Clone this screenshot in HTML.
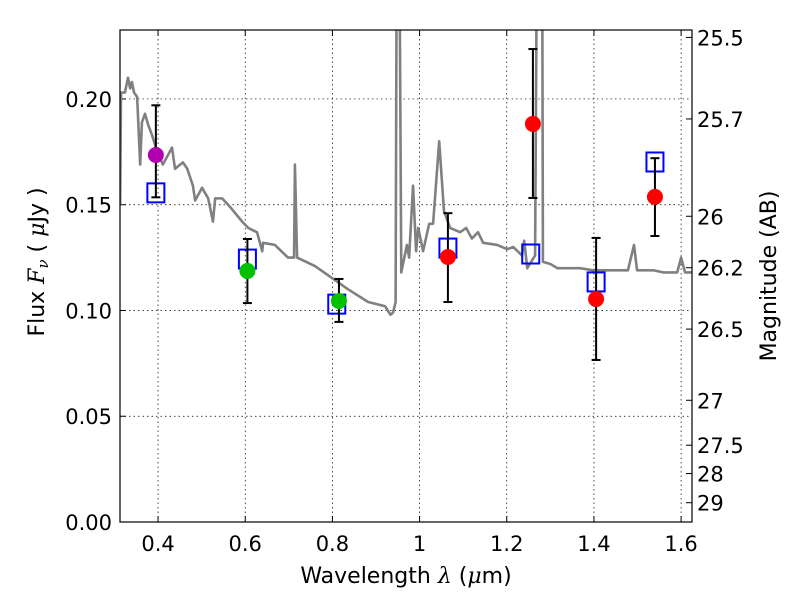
<!DOCTYPE html>
<html><head><meta charset="utf-8"><style>
body{margin:0;background:#fff}
svg text{font-family:"DejaVu Sans","Liberation Sans",sans-serif;fill:#000}
</style></head><body>
<svg id="c" width="800" height="600" xmlns="http://www.w3.org/2000/svg"></svg>
<script>
const specX=[0.313,0.315,0.324,0.331,0.336,0.340,0.345,0.352,0.359,0.363,0.370,0.377,0.386,0.398,0.411,0.432,0.439,0.457,0.467,0.480,0.485,0.501,0.515,0.526,0.531,0.547,0.565,0.593,0.607,0.627,0.639,0.641,0.668,0.698,0.712,0.714,0.719,0.760,0.836,0.882,0.921,0.933,0.939,0.945,0.948,0.953,0.958,0.971,0.976,0.985,0.992,0.997,1.008,1.022,1.031,1.045,1.056,1.070,1.093,1.107,1.120,1.134,1.146,1.178,1.201,1.215,1.235,1.240,1.247,1.265,1.270,1.281,1.283,1.300,1.316,1.368,1.398,1.444,1.478,1.492,1.499,1.536,1.559,1.591,1.600,1.609,1.627];
const specY=[0.15,0.203,0.203,0.210,0.205,0.208,0.203,0.201,0.169,0.189,0.193,0.188,0.183,0.175,0.169,0.177,0.167,0.170,0.167,0.159,0.152,0.158,0.153,0.142,0.153,0.153,0.149,0.142,0.139,0.137,0.128,0.132,0.131,0.125,0.125,0.169,0.125,0.121,0.110,0.104,0.102,0.098,0.099,0.104,0.30,0.30,0.118,0.131,0.125,0.159,0.128,0.139,0.128,0.141,0.141,0.180,0.147,0.139,0.137,0.139,0.134,0.137,0.132,0.131,0.129,0.130,0.126,0.133,0.120,0.126,0.30,0.30,0.123,0.122,0.120,0.120,0.119,0.119,0.119,0.131,0.119,0.119,0.118,0.118,0.125,0.118,0.118];
const obsX=[0.395,0.605,0.815,1.065,1.26,1.405,1.54];
const obsY=[0.1735,0.1187,0.1045,0.1253,0.1882,0.1054,0.1537];
const obsHi=[0.197,0.1338,0.1149,0.146,0.2236,0.1343,0.172];
const obsLo=[0.1535,0.1035,0.0946,0.104,0.1532,0.0766,0.1352];
const obsColor=['#b000b0','#00c000','#00c000','#ff0000','#ff0000','#ff0000','#ff0000'];
const modX=[0.395,0.605,0.81,1.065,1.255,1.405,1.54];
const modY=[0.1556,0.1243,0.103,0.1295,0.1267,0.1135,0.1702];
const xTicks=[0.4,0.6,0.8,1.0,1.2,1.4,1.6];
const xTickLabels=['0.4','0.6','0.8','1','1.2','1.4','1.6'];
const yTicks=[0,0.05,0.10,0.15,0.20];
const yTickLabels=['0.00','0.05','0.10','0.15','0.20'];
const magTicks=[25.5,25.7,26,26.2,26.5,27,27.5,28,29];
const magTickLabels=['25.5','25.7','26','26.2','26.5','27','27.5','28','29'];

const L=120,R=692,T=30,B=522,X0=0.3127,X1=1.625,Y0=0,Y1=0.2326;
const sx=v=>L+(v-X0)/(X1-X0)*(R-L);
const sy=v=>B-(v-Y0)/(Y1-Y0)*(B-T);
const magToFlux=m=>Math.pow(10,(23.9-m)/2.5);
const NS='http://www.w3.org/2000/svg';
const svg=document.getElementById('c');
function mk(tag,at,parent){const e=document.createElementNS(NS,tag);for(const k in at)e.setAttribute(k,at[k]);(parent||svg).appendChild(e);return e;}
const defs=mk('defs',{});const cp=mk('clipPath',{id:'clip'},defs);mk('rect',{x:L,y:T,width:R-L,height:B-T},cp);

xTicks.forEach((t,i)=>{
 const g=mk('line',{x1:sx(t),x2:sx(t),y1:T,y2:B,stroke:'#000','stroke-width':0.7,'stroke-dasharray':'1.5,3'});
 
 
 mk('line',{x1:sx(t),x2:sx(t),y1:B,y2:B-6,stroke:'#000'});
 mk('line',{x1:sx(t),x2:sx(t),y1:T,y2:T+6,stroke:'#000'});
 const tx=mk('text',{x:sx(t),y:B+29,'text-anchor':'middle','font-size':21});tx.textContent=xTickLabels[i];
 
 
});
yTicks.forEach((t,i)=>{
 const g=mk('line',{x1:L,x2:R,y1:sy(t),y2:sy(t),stroke:'#000','stroke-width':0.7,'stroke-dasharray':'1.5,3'});
 
 
 mk('line',{x1:L,x2:L+6,y1:sy(t),y2:sy(t),stroke:'#000'});
 const tx=mk('text',{x:L-8,y:sy(t)+8,'text-anchor':'end','font-size':21});tx.textContent=yTickLabels[i];
 
 
});
magTicks.forEach((m,i)=>{
 const y=sy(magToFlux(m));
 mk('line',{x1:R,x2:R-6,y1:y,y2:y,stroke:'#000'});
 const tx=mk('text',{x:R+5,y:y+8,'text-anchor':'start','font-size':21});tx.textContent=magTickLabels[i];
 
 
});

const gp=mk('g',{'clip-path':'url(#clip)'});
const pl=mk('polyline',{points:specX.map((x,i)=>sx(x)+','+sy(specY[i])).join(' '),fill:'none',stroke:'#808080','stroke-width':2.6,'stroke-linejoin':'round'},gp);



modX.forEach((x,i)=>{
 const r=mk('rect',{x:sx(x)-8.5,y:sy(modY[i])-9.5,width:17,height:19,fill:'none',stroke:'#0000ff','stroke-width':2});
 
 
});
obsX.forEach((x,i)=>{
 const px=sx(x);
 const e=mk('line',{x1:px,x2:px,y1:sy(obsHi[i]),y2:sy(obsLo[i]),stroke:'#000','stroke-width':2});
 
 
 mk('line',{x1:px-4.5,x2:px+4.5,y1:sy(obsHi[i]),y2:sy(obsHi[i]),stroke:'#000','stroke-width':2});
 mk('line',{x1:px-4.5,x2:px+4.5,y1:sy(obsLo[i]),y2:sy(obsLo[i]),stroke:'#000','stroke-width':2});
 const c=mk('circle',{cx:px,cy:sy(obsY[i]),r:8,fill:obsColor[i]});
 
 
});

const fr=mk('rect',{x:L,y:T,width:R-L,height:B-T,fill:'none',stroke:'#000','stroke-width':1.2});



const xl=mk('text',{x:406,y:583,'text-anchor':'middle','font-size':22});
xl.innerHTML='Wavelength  <tspan font-family="DejaVu Serif" font-style="italic">λ</tspan> (<tspan font-family="DejaVu Serif" font-style="italic">μ</tspan>m)';


const yl=mk('text',{x:0,y:0,'text-anchor':'middle','font-size':22,'xml:space':'preserve',transform:'translate(44,262) rotate(-90)'});
yl.innerHTML='Flux  <tspan font-family="DejaVu Serif" font-style="italic">F</tspan><tspan font-family="DejaVu Serif" font-style="italic" font-size="15" dy="4">ν</tspan><tspan dy="-4">  (  </tspan><tspan font-family="DejaVu Serif" font-style="italic">μ</tspan>Jy )';


const rl=mk('text',{x:0,y:0,'text-anchor':'middle','font-size':22,transform:'translate(776,276) rotate(-90)'});
rl.textContent='Magnitude (AB)';


</script>
</body></html>
